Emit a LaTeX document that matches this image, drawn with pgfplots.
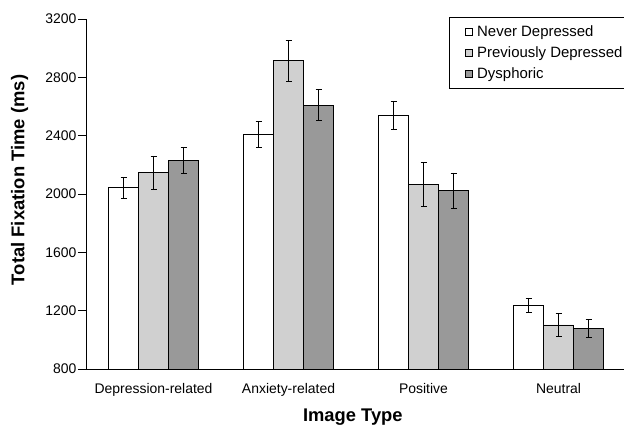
\documentclass[border=0pt]{standalone}
\usepackage{pgfplots}
\pgfplotsset{compat=1.18}
\usepackage{pgfplotstable}
\usepackage{fontspec}
\setmainfont{Liberation Sans}
\definecolor{pdgray}{RGB}{208,208,208}
\definecolor{dygray}{RGB}{153,153,153}

\pgfplotstableread{
x nd nde pd pde dy dye
0 2043 70 2146 115 2232 90
1 2410 88 2915 140 2610 108
2 2537 97 2067 151 2022 122
3 1237 50 1102 78 1076 62
}\data

\pgfplotsset{
  sq legend/.style={legend image code/.code={\path (0bp,0bp); \draw[##1, draw=black, line width=0.5bp] (11bp,-3.5bp) rectangle (18bp,3.5bp);}},
  eb/.style={error bars/.cd, y dir=both, y explicit,
    error bar style={black, line width=0.7bp},
    error mark options={black, rotate=90, mark size=3bp, line width=0.7bp}},
}

\begin{document}
\begin{tikzpicture}
\begin{axis}[
  at={(0,0)}, anchor=south west,
  scale only axis, width=538bp, height=350bp,
  xmin=-0.5, xmax=3.485, ymin=800, ymax=3200,
  axis x line*=bottom, axis y line*=left,
  axis line style={black, line width=0.8bp},
  ybar=0pt, bar width=30bp,
  ytick={800,1200,...,3200},
  xtick=\empty,
  minor xtick={0.5,1.5,2.5},
  extra x ticks={0,1,2,3},
  extra x tick labels={Depression-related,Anxiety-related,Positive,Neutral},
  extra x tick style={tick style={draw=none}, tick label style={anchor=base, yshift=-16.3bp}},
  tick align=outside, major tick length=8bp, minor tick length=5bp,
  tick style={black, line width=0.7bp},
  tick label style={font=\fontsize{14}{16}\selectfont},
  yticklabel style={inner xsep=1.5bp},
  /pgf/number format/assume math mode=true,
  /pgf/number format/1000 sep={},
  ylabel={Total Fixation Time (ms)},
  ylabel style={at={(axis description cs:-0.1236,0.54)}, anchor=center, font=\bfseries\fontsize{18.5}{21}\selectfont},
  xlabel={Image Type},
  xlabel style={at={(axis description cs:0.496,-0.1514)}, anchor=base, font=\bfseries\fontsize{18.4}{21}\selectfont},
  legend style={at={(rel axis cs:0.6753,1.0049)}, anchor=north west, draw=black, line width=0.7bp,
    font=\fontsize{15}{17}\selectfont, inner xsep=4bp, inner ysep=4bp, row sep=0bp,
    nodes={inner ysep=4.3bp, inner xsep=2bp},
    /tikz/every odd column/.append style={column sep=3bp}},
  legend cell align=left,
]
\addplot[fill=white, draw=black, line width=0.6bp, sq legend, eb] table[x=x, y=nd, y error=nde]{\data};
\addplot[fill=pdgray, draw=black, line width=0.6bp, sq legend, eb] table[x=x, y=pd, y error=pde]{\data};
\addplot[fill=dygray, draw=black, line width=0.6bp, sq legend, eb] table[x=x, y=dy, y error=dye]{\data};
\legend{Never Depressed, Previously Depressed, Dysphoric}
\end{axis}
\pgfresetboundingbox
\path (-86bp,-56bp) rectangle (538bp,369bp);
\end{tikzpicture}
\end{document}
